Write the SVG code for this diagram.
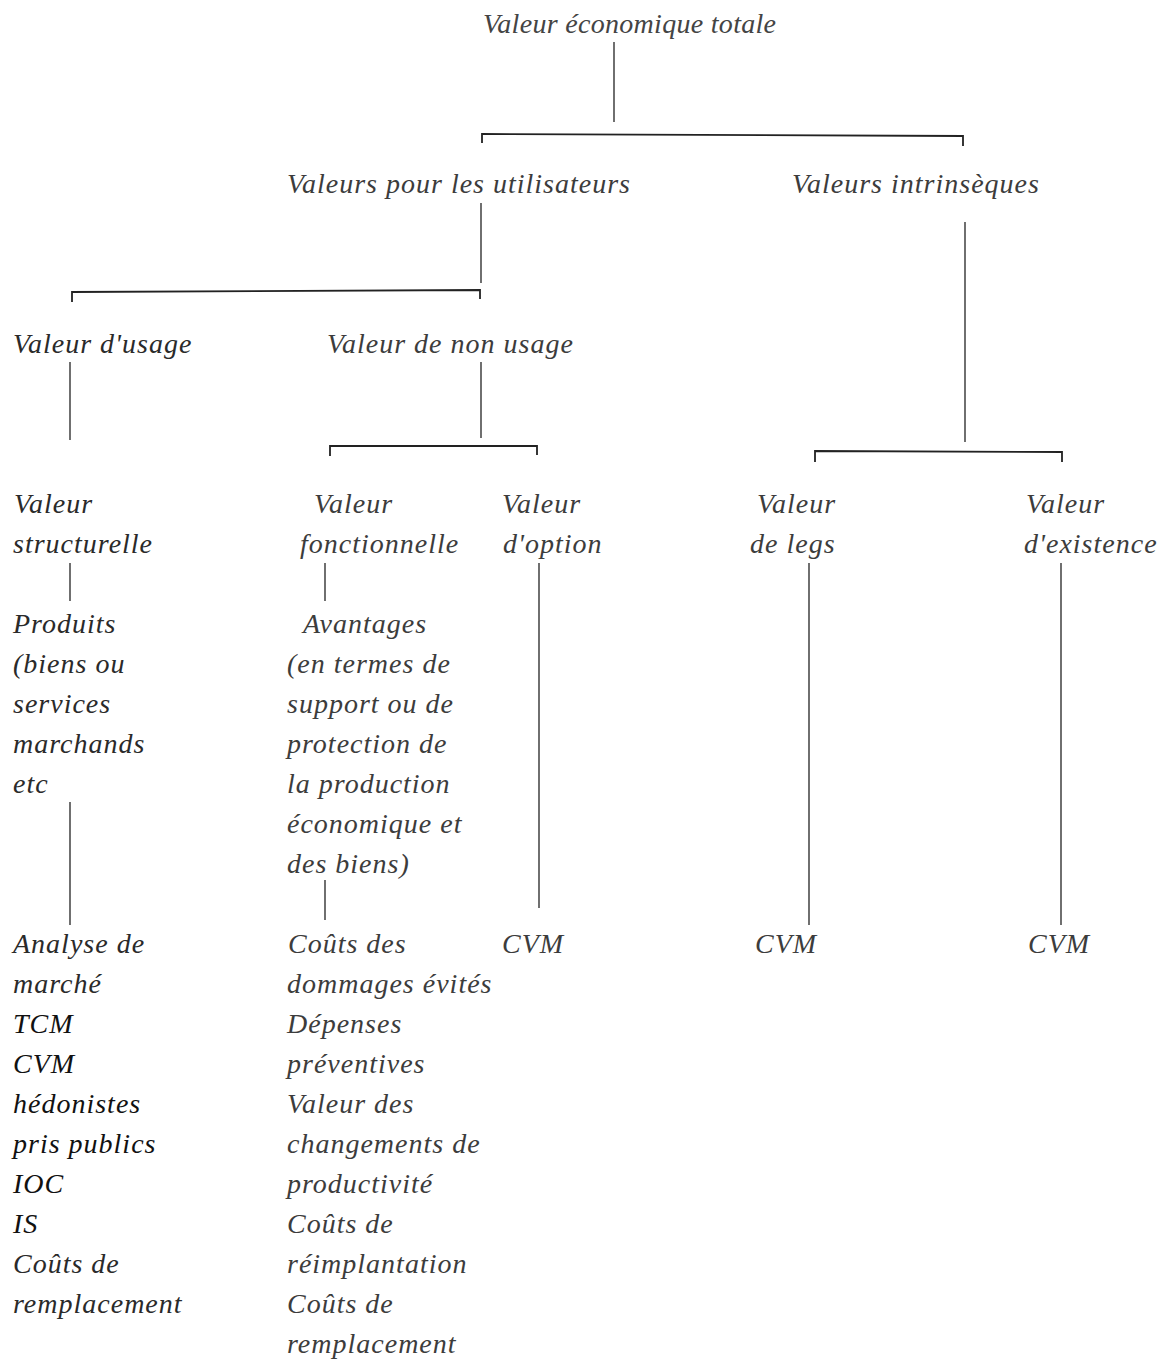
<svg xmlns="http://www.w3.org/2000/svg" width="1161" height="1360" viewBox="0 0 1161 1360">
<style>
text{font-family:"Liberation Serif","Times New Roman",serif;font-style:italic;font-size:28px;fill:#2a2a2a;letter-spacing:1px}
.top{letter-spacing:0.3px;fill:#444}
.lt{fill:#3c3c3c}
.dk{fill:#111}
.c line,.c path{stroke:#222;stroke-width:1.3;fill:none}
.c .b{stroke-width:1.8}
</style>
<rect width="1161" height="1360" fill="#fff"/>
<g id="connectors" class="c">
<line x1="614" y1="42" x2="614" y2="122"/>
<path class="b" d="M482,143 V134 L963,136 V146"/>
<line x1="481" y1="203" x2="481" y2="283"/>
<path class="b" d="M72,302 V292 L480,290 V299"/>
<line x1="965" y1="222" x2="965" y2="442"/>
<line x1="70" y1="362" x2="70" y2="440"/>
<line x1="481" y1="362" x2="481" y2="438"/>
<path class="b" d="M330,456 V446 L537,446 V455"/>
<path class="b" d="M815,462 V451 L1062,452 V462"/>
<line x1="70" y1="563" x2="70" y2="601"/>
<line x1="325" y1="563" x2="325" y2="601"/>
<line x1="539" y1="563" x2="539" y2="908"/>
<line x1="809" y1="563" x2="809" y2="925"/>
<line x1="1061" y1="563" x2="1061" y2="925"/>
<line x1="70" y1="802" x2="70" y2="925"/>
<line x1="325" y1="880" x2="325" y2="920"/>
</g>
<g id="n-total"><text class="top" x="483" y="33">Valeur économique totale</text></g>
<g id="n-utilisateurs"><text class="lt" x="287" y="193">Valeurs pour les utilisateurs</text></g>
<g id="n-intrinseques"><text class="lt" x="792" y="193">Valeurs intrinsèques</text></g>
<g id="n-usage"><text x="13" y="353">Valeur d'usage</text></g>
<g id="n-nonusage"><text class="lt" x="327" y="353">Valeur de non usage</text></g>
<g id="n-structurelle"><text x="14" y="513">Valeur</text><text x="13" y="553">structurelle</text></g>
<g id="n-fonctionnelle"><text class="lt" x="314" y="513">Valeur</text><text class="lt" x="300" y="553">fonctionnelle</text></g>
<g id="n-option"><text class="lt" x="502" y="513">Valeur</text><text class="lt" x="503" y="553">d'option</text></g>
<g id="n-legs"><text class="lt" x="757" y="513">Valeur</text><text class="lt" x="750" y="553">de legs</text></g>
<g id="n-existence"><text class="lt" x="1026" y="513">Valeur</text><text class="lt" x="1024" y="553">d'existence</text></g>
<g id="n-produits">
<text x="13" y="633">Produits</text>
<text x="13" y="673">(biens ou</text>
<text x="13" y="713">services</text>
<text x="13" y="753">marchands</text>
<text x="13" y="793">etc</text>
</g>
<g id="n-avantages">
<text class="lt" x="303" y="633">Avantages</text>
<text class="lt" x="287" y="673">(en termes de</text>
<text class="lt" x="287" y="713">support ou de</text>
<text class="lt" x="287" y="753">protection de</text>
<text class="lt" x="287" y="793">la production</text>
<text class="lt" x="287" y="833">économique et</text>
<text class="lt" x="287" y="873">des biens)</text>
</g>
<g id="n-methodes-usage">
<text x="13" y="953">Analyse de</text>
<text x="13" y="993">marché</text>
<text class="dk" x="13" y="1033">TCM</text>
<text class="dk" x="13" y="1073">CVM</text>
<text class="dk" x="13" y="1113">hédonistes</text>
<text class="dk" x="13" y="1153">pris publics</text>
<text class="dk" x="13" y="1193">IOC</text>
<text class="dk" x="13" y="1233">IS</text>
<text x="13" y="1273">Coûts de</text>
<text x="13" y="1313">remplacement</text>
</g>
<g id="n-methodes-fonction">
<text class="lt" x="288" y="953">Coûts des</text>
<text class="lt" x="287" y="993">dommages évités</text>
<text class="lt" x="287" y="1033">Dépenses</text>
<text class="lt" x="287" y="1073">préventives</text>
<text class="lt" x="287" y="1113">Valeur des</text>
<text class="lt" x="287" y="1153">changements de</text>
<text class="lt" x="287" y="1193">productivité</text>
<text class="lt" x="287" y="1233">Coûts de</text>
<text class="lt" x="287" y="1273">réimplantation</text>
<text class="lt" x="287" y="1313">Coûts de</text>
<text class="lt" x="287" y="1353">remplacement</text>
</g>
<g id="n-cvm-option"><text class="lt" x="502" y="953">CVM</text></g>
<g id="n-cvm-legs"><text class="lt" x="755" y="953">CVM</text></g>
<g id="n-cvm-existence"><text class="lt" x="1028" y="953">CVM</text></g>
</svg>
